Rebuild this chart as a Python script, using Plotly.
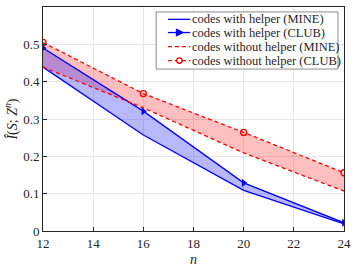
import plotly.graph_objects as go

n = [12, 16, 20, 24]
with_mine = [0.439, 0.257, 0.109, 0.019]
with_club = [0.490, 0.321, 0.129, 0.022]
without_mine = [0.439, 0.330, 0.209, 0.107]
without_club = [0.505, 0.368, 0.264, 0.156]
x_ticks = [12, 14, 16, 18, 20, 22, 24]
y_ticks = [0, 0.1, 0.2, 0.3, 0.4, 0.5, 0.6]
y_ticklabels = ["0", "0.1", "0.2", "0.3", "0.4", "0.5", "0.6"]
legend_names = ["codes with helper (MINE)", "codes with helper (CLUB)",
                "codes without helper (MINE)", "codes without helper (CLUB)"]

BLUE = "#0000ff"
RED = "#ff0000"
FONT = "Liberation Serif"
TXT = "#262626"

fig = go.Figure()
# fills
fig.add_trace(go.Scatter(x=n, y=without_mine, mode="lines", line=dict(width=0), showlegend=False, hoverinfo="skip"))
fig.add_trace(go.Scatter(x=n, y=without_club, mode="lines", line=dict(width=0), fill="tonexty",
                         fillcolor="rgba(255,0,0,0.25)", showlegend=False, hoverinfo="skip"))
fig.add_trace(go.Scatter(x=n, y=with_mine, mode="lines", line=dict(width=0), showlegend=False, hoverinfo="skip"))
fig.add_trace(go.Scatter(x=n, y=with_club, mode="lines", line=dict(width=0), fill="tonexty",
                         fillcolor="rgba(0,0,255,0.28)", showlegend=False, hoverinfo="skip"))
# lines
fig.add_trace(go.Scatter(x=n, y=with_mine, mode="lines", name=legend_names[0],
                         line=dict(color=BLUE, width=1.3)))
fig.add_trace(go.Scatter(x=n, y=with_club, mode="lines+markers", name=legend_names[1],
                         line=dict(color=BLUE, width=1.3),
                         marker=dict(symbol="triangle-right", size=7, color=BLUE)))
fig.add_trace(go.Scatter(x=n, y=without_mine, mode="lines", name=legend_names[2],
                         line=dict(color=RED, width=1.3, dash="4px,3px")))
fig.add_trace(go.Scatter(x=n, y=without_club, mode="lines+markers", name=legend_names[3],
                         line=dict(color=RED, width=1.3, dash="4px,3px"),
                         marker=dict(symbol="circle-open", size=6, color=RED, line=dict(width=1.3))))

# ---- hand-drawn legend (MATLAB-style compact) ----
box = dict(x0=0.376, x1=0.980, y0=0.723, y1=0.978)
rows_y = [0.945, 0.886, 0.823, 0.761]
line_x = (0.415, 0.489)
mark_x = 0.453
text_x = 0.493
styles = [(BLUE, "solid", None), (BLUE, "solid", "tri"), (RED, "4px,3px", None), (RED, "4px,3px", "circ")]

shapes = [dict(type="rect", xref="paper", yref="paper", layer="above",
               fillcolor="white", line=dict(color="#6e6e6e", width=0.8), **box)]
annotations = []
for name, ry, (col, dash, mk) in zip(legend_names, rows_y, styles):
    shapes.append(dict(type="line", xref="paper", yref="paper", layer="above",
                       x0=line_x[0], x1=line_x[1], y0=ry, y1=ry,
                       line=dict(color=col, width=1.3, dash=dash)))
    if mk == "tri":
        shapes.append(dict(type="path", xref="paper", yref="paper", layer="above",
                           xsizemode="pixel", ysizemode="pixel", xanchor=mark_x, yanchor=ry,
                           path="M -3,-3.5 L 4,0 L -3,3.5 Z", fillcolor=col, line=dict(color=col, width=1)))
    elif mk == "circ":
        shapes.append(dict(type="circle", xref="paper", yref="paper", layer="above",
                           xsizemode="pixel", ysizemode="pixel", xanchor=mark_x, yanchor=ry,
                           x0=-2.7, x1=2.7, y0=-2.7, y1=2.7, fillcolor="white",
                           line=dict(color=col, width=1.3)))
    annotations.append(dict(text=name, xref="paper", yref="paper", x=text_x, y=ry,
                            xanchor="left", yanchor="middle", showarrow=False, borderpad=0,
                            font=dict(family=FONT, size=12.5, color=TXT)))

axis_common = dict(showline=True, linecolor=TXT, linewidth=1, mirror=True,
                   ticks="inside", ticklen=4, tickcolor=TXT,
                   showgrid=True, gridcolor="#e6e6e6", gridwidth=1, zeroline=False,
                   tickfont=dict(family=FONT, size=13, color=TXT))

fig.update_layout(
    width=357, height=270,
    margin=dict(l=43, r=8, t=6, b=33),
    paper_bgcolor="white", plot_bgcolor="white",
    font=dict(family=FONT, size=13, color=TXT),
    xaxis=dict(range=[12, 24], tickvals=x_ticks,
               title=dict(text="<i>n</i>", font=dict(family=FONT, size=14), standoff=4), **axis_common),
    yaxis=dict(range=[0, 0.6], tickvals=y_ticks, ticktext=y_ticklabels,
               title=dict(text="<i>Î</i>(<i>S</i>; <i>Z</i><sup><i>n</i></sup>)",
                          font=dict(family=FONT, size=14), standoff=2),
               **axis_common),
    shapes=shapes,
    annotations=annotations,
    showlegend=False,
)

fig.write_html("out.html", config={"displayModeBar": False},
               post_script="document.body.style.margin='0';")
